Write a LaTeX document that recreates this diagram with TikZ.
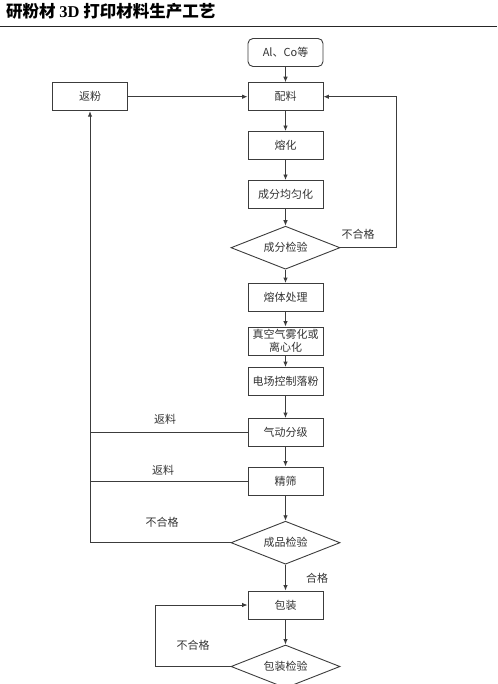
\documentclass[tikz,border=0pt]{standalone}
\usepackage{fontspec}
\setmainfont{Liberation Serif}
\newfontfamily\cjk{Noto Sans CJK SC}
\usetikzlibrary{arrows.meta,shapes.geometric}
\definecolor{linec}{HTML}{3C3C3C}
\definecolor{txtc}{HTML}{333333}
\begin{document}
\begin{tikzpicture}[x=1pt,y=-1pt,
  box/.style={draw=linec, line width=0.9pt, minimum width=75pt, minimum height=28pt, inner sep=1pt,
    font=\cjk\fontsize{11}{12.7}\selectfont, text=txtc, align=center},
  dia/.style={draw=linec, line width=0.9pt, diamond, aspect=2.5, minimum width=109pt, minimum height=43pt,
    inner sep=0pt, font=\cjk\fontsize{11}{12.7}\selectfont, text=txtc},
  lbl/.style={font=\cjk\fontsize{11}{12.7}\selectfont, text=txtc},
  arr/.style={draw=linec, line width=0.9pt, -{Latex[length=5.5pt,width=4.5pt]}},
  ln/.style={draw=linec, line width=0.9pt}]
\useasboundingbox (0,0) rectangle (497,684);
% title
\node[anchor=base west, font=\cjk\bfseries\fontsize{16.5}{18}\selectfont, inner sep=0pt] (title) at (6,18)
  {研粉材 {\rmfamily\bfseries 3D} 打印材料生产工艺};
\draw[line width=1pt, black!85] (0,27) -- (497,27);
% nodes
\node[box, rounded corners=5pt] (src) at (285.5,52.5) {Al、Co等};
\node[box] (mix) at (285.5,96.7) {配料};
\node[box] (ret) at (90,96.7) {返粉};
\node[box] (melt) at (285.5,145.5) {熔化};
\node[box] (homo) at (285.5,194.5) {成分均匀化};
\node[dia] (chk1) at (285.5,247.7) {成分检验};
\node[box] (treat) at (285.5,297.5) {熔体处理};
\node[box] (atom) at (285.5,341) {真空气雾化或\\离心化};
\node[box] (field) at (285.5,381.5) {电场控制落粉};
\node[box] (cls) at (285.5,432.5) {气动分级};
\node[box] (sieve) at (285.5,481) {精筛};
\node[dia] (chk2) at (285.5,542.7) {成品检验};
\node[box] (pack) at (285.5,605) {包装};
\node[dia] (chk3) at (285.5,666.5) {包装检验};
% labels
\node[lbl] (n1) at (358,234) {不合格};
\node[lbl] (r1l) at (165,419) {返料};
\node[lbl] (r2l) at (163,470) {返料};
\node[lbl] (n2) at (162,522) {不合格};
\node[lbl] (ok) at (317,578) {合格};
\node[lbl] (n3) at (193,645) {不合格};
% coordinates
\coordinate (rc) at (396,247.7);
\coordinate (lc) at (90,542.7);
\coordinate (pc) at (155,666.5);
% connectors
\draw[arr] (src) -- (mix);
\draw[arr] (ret) -- (mix);
\draw[arr] (mix) -- (melt);
\draw[arr] (melt) -- (homo);
\draw[arr] (homo) -- (chk1);
\draw[arr] (chk1) -- (treat);
\draw[arr] (treat) -- (atom);
\draw[arr] (atom) -- (field);
\draw[arr] (field) -- (cls);
\draw[arr] (cls) -- (sieve);
\draw[arr] (sieve) -- (chk2);
\draw[arr] (chk2) -- (pack);
\draw[arr] (pack) -- (chk3);
\draw[arr] (chk1.east) -- (rc) |- (mix.east);
\draw[arr] (chk2.west) -- (lc) -- (ret.south);
\draw[ln] (cls.west) -- (cls.west -| lc);
\draw[ln] (sieve.west) -- (sieve.west -| lc);
\draw[arr] (chk3.west) -- (pc) |- (pack.west);
\end{tikzpicture}
\end{document}
